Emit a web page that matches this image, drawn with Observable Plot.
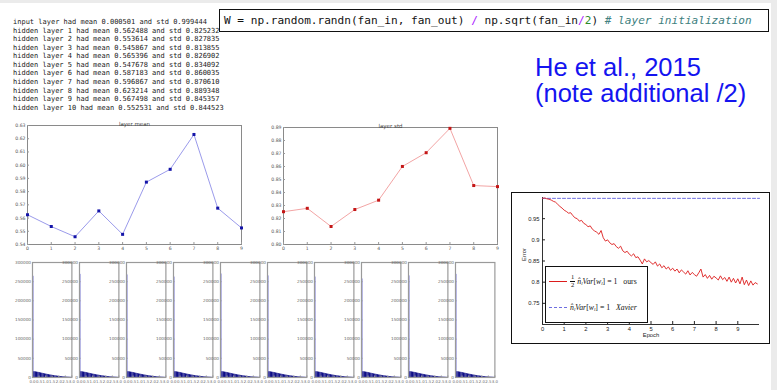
<!DOCTYPE html>
<html><head><meta charset="utf-8">
<script src="https://cdn.jsdelivr.net/npm/d3@7"></script>
<script src="https://cdn.jsdelivr.net/npm/@observablehq/plot@0.6"></script>
<style>
html,body{margin:0;padding:0;}
body{width:777px;height:390px;background:#ebebeb;position:relative;overflow:hidden;font-family:"Liberation Sans",Arial,sans-serif;}
#slide{position:absolute;left:0;top:3px;width:771px;height:387px;background:#fff;}
.abs{position:absolute;}
.abs svg{display:block;overflow:visible;}
#log{left:13px;top:18px;font-family:"DejaVu Sans Mono",monospace;font-size:7px;line-height:8.57px;white-space:pre;color:#222;}
#code{left:219px;top:9px;width:544px;height:21px;border:1px solid #111;font-family:"DejaVu Sans Mono",monospace;font-size:11.1px;line-height:21px;white-space:pre;color:#111;padding-left:4px;box-sizing:content-box;}
#code .op{color:#aa22ff;} #code .num{color:#2a8a2a;} #code .cm{color:#408080;font-style:italic;}
#ref{left:535px;top:55px;font-size:25.5px;line-height:25.7px;color:#1414f0;white-space:pre;}
#ebox{left:511px;top:192px;width:257px;height:150px;border:1.5px solid #111;}
#legend{left:545px;top:266px;width:101px;height:55px;border:1px solid #111;background:#fff;font-family:"Liberation Serif",serif;font-size:7.8px;color:#111;}
#legend .row{position:absolute;left:3px;height:14px;display:flex;align-items:center;white-space:nowrap;}
#legend .sw{display:inline-block;width:18px;height:0;margin-right:3px;}
#legend .frac{display:inline-flex;flex-direction:column;align-items:center;font-size:6.5px;line-height:6.5px;margin-right:2px;}
#legend .frac span:first-child{border-bottom:0.6px solid #111;padding:0 1px;}
#legend sub{font-size:5px;vertical-align:-1px;}
</style></head>
<body>
<div id="slide"></div>
<script>
// ---------- data ----------
const inputMean = 0.000501, inputStd = 0.999444;
const layers = [0,1,2,3,4,5,6,7,8,9];
const layerMeans = [0.562488,0.553614,0.545867,0.565396,0.547678,0.587183,0.596867,0.623214,0.567498,0.552531];
const layerStds  = [0.825232,0.827835,0.813855,0.826902,0.834092,0.860035,0.870610,0.889348,0.845357,0.844523];
const meanTicks = [0.54,0.55,0.56,0.57,0.58,0.59,0.60,0.61,0.62,0.63];
const stdTicks  = [0.80,0.81,0.82,0.83,0.84,0.85,0.86,0.87,0.88,0.89];

const histPeaks = [264000,269000,267500,262000,270000,265000,262000,257000,265000,269000];
const histTail = [15000,14600,14000,13300,12600,11800,11000,10200,9400,8700,8000,7300,6600,6000,5400,4800,4300,3800,3300,2900,2500,2100,1800,1500,1200,1000,800,600,400];
const histYTicks = [0,50000,100000,150000,200000,250000,300000];
const histXTicks = [0,0.5,1.0,1.5,2.0,2.5,3.0];

const heError = [0.998,0.999,0.997,0.996,0.994,0.991,0.989,0.984,0.979,0.975,
 0.970,0.967,0.963,0.964,0.957,0.952,0.950,0.944,0.946,0.939,
 0.936,0.931,0.933,0.925,0.921,0.918,0.913,0.922,0.905,0.897,
 0.900,0.893,0.889,0.891,0.884,0.880,0.885,0.874,0.870,0.873,
 0.866,0.862,0.867,0.858,0.860,0.852,0.843,0.855,0.848,0.851,
 0.846,0.842,0.848,0.838,0.843,0.834,0.839,0.831,0.836,0.828,
 0.833,0.826,0.831,0.822,0.829,0.824,0.819,0.827,0.817,0.823,
 0.818,0.814,0.822,0.831,0.812,0.818,0.809,0.816,0.807,0.814,
 0.810,0.805,0.815,0.806,0.811,0.802,0.812,0.800,0.809,0.798,
 0.808,0.796,0.812,0.794,0.805,0.792,0.803,0.793,0.799,0.796];
const xavierEpochs = [0,10];
const xavierError = [0.998,0.998];
const epochTicks = [0,1,2,3,4,5,6,7,8,9];
const errorTicks = [0.75,0.8,0.85,0.9,0.95];

// ---------- helpers ----------
function place(el, left, top, w){
  const d = document.createElement("div");
  d.className = "abs"; d.style.left = left+"px"; d.style.top = top+"px";
  if (w) d.style.width = w+"px";
  d.appendChild(el); document.body.appendChild(d); return d;
}
function html(id, content){
  const d = document.createElement("div"); d.id = id; d.className = "abs"; d.innerHTML = content;
  document.body.appendChild(d); return d;
}
const tickFont = "DejaVu Sans, sans-serif";

// ---------- texts ----------
const logLines = [`input layer had mean ${inputMean.toFixed(6)} and std ${inputStd.toFixed(6)}`]
  .concat(layers.map(i => `hidden layer ${i+1} had mean ${layerMeans[i].toFixed(6)} and std ${layerStds[i].toFixed(6)}`));
html("log", "").textContent = logLines.join("\n");
html("code", 'W = np.random.randn(fan_in, fan_out) <span class="op">/</span> np.sqrt(fan_in<span class="op">/</span><span class="num">2</span>) <span class="cm"># layer initialization</span>');
html("ref", "He et al., 2015\n(note additional /2)");

// ---------- layer mean / std ----------
function layerChart(values, ticks, title, lineColor, dotColor, mt){
  const data = layers.map(i => ({layer: i, v: values[i]}));
  return Plot.plot({
    width: 250, height: 140, marginLeft: 27, marginRight: 9, marginTop: mt, marginBottom: 11,
    x: {domain: [0, 9], label: null}, y: {domain: [ticks[0], ticks[ticks.length-1]], label: null},
    style: {background: "transparent", fontFamily: tickFont, overflow: "visible", color: "#555"},
    marks: [
      Plot.frame({stroke: "#8a8a8a"}),
      Plot.axisY({ticks, label: null, tickFormat: d => d.toFixed(2), tickSize: -2, tickPadding: 4, fontSize: 4.6, stroke: "#999"}),
      Plot.axisX({ticks: layers, label: null, tickFormat: d => String(d), tickSize: -2, tickPadding: 4, fontSize: 4.6, stroke: "#999"}),
      Plot.line(data, {x: "layer", y: "v", stroke: lineColor, strokeWidth: 0.9}),
      Plot.dot(data, {x: "layer", y: "v", r: 1.7, fill: dotColor, symbol: "square"}),
      Plot.text([title], {frameAnchor: "top", dy: -3.5, fontSize: 5.5, fill: "#444"})
    ]
  });
}
place(layerChart(layerMeans, meanTicks, "layer mean", "#8e8ee8", "#1414a8", 10), 0, 115, 250);
place(layerChart(layerStds, stdTicks, "layer std", "#f09a9a", "#c41616", 12), 256, 115, 250);

// ---------- histograms ----------
histPeaks.forEach((peak, k) => {
  const bins = [{x1: 0, x2: 0.1, y: peak, part: "spike"}]
    .concat(histTail.map((c, j) => ({x1: 0.1 + 0.1*j, x2: 0.2 + 0.1*j, y: c, part: "tail"})));
  const ml = 30, mr = 2, mt = 4, mb = 12, fw = 39.4, fh = 115;
  const p = Plot.plot({
    width: ml + fw + mr, height: mt + fh + mb, marginLeft: ml, marginRight: mr, marginTop: mt, marginBottom: mb,
    x: {domain: [0, 3], label: null}, y: {domain: [0, 300000], label: null},
    style: {background: "transparent", fontFamily: tickFont, overflow: "visible", color: "#666"},
    marks: [
      Plot.rectY(bins, {x1: "x1", x2: "x2", y: "y", fill: d => d.part === "spike" ? "#2626c4" : "#0e0e86"}),
      Plot.frame({stroke: "#9a9a9a", strokeWidth: 1.2}),
      Plot.axisY({ticks: histYTicks, label: null, tickFormat: d => String(d), tickSize: -1.5, tickPadding: 3, fontSize: 4.2, stroke: "#999"}),
      Plot.axisX({ticks: histXTicks, label: null, tickFormat: d => d.toFixed(1), tickSize: -1.5, tickPadding: 4.5, fontSize: 3.9, stroke: "#999"})
    ]
  });
  place(p, 32.3 + 47*k - ml, 262 - mt, ml + fw + mr);
});

// ---------- He et al. error chart ----------
html("ebox", "");
const errData = heError.map((e, i) => ({epoch: i/10, error: e}));
const xavData = xavierEpochs.map((e, i) => ({epoch: e, error: xavierError[i]}));
const errPlot = Plot.plot({
  width: 265, height: 160, marginLeft: 37, marginRight: 11, marginTop: 12, marginBottom: 21,
  x: {domain: [0, 10], label: null}, y: {domain: [0.7, 1.0], label: null},
  style: {background: "transparent", fontFamily: "Liberation Sans, sans-serif", overflow: "visible", color: "#222"},
  marks: [
    Plot.ruleX([0], {stroke: "#333"}),
    Plot.ruleY([0.7], {stroke: "#333"}),
    Plot.axisY({ticks: errorTicks, label: null, tickFormat: d => String(d), tickSize: -3, tickPadding: 6, fontSize: 5.8}),
    Plot.axisX({ticks: epochTicks, label: null, tickFormat: d => String(d), tickSize: -3, tickPadding: 5, fontSize: 5.8}),
    Plot.line(xavData, {x: "epoch", y: "error", stroke: "#6e6ee0", strokeWidth: 1, strokeDasharray: "3,2"}),
    Plot.line(errData, {x: "epoch", y: "error", stroke: "#dc1c1c", strokeWidth: 0.9}),
    Plot.text(["Error"], {frameAnchor: "left", dx: -18, rotate: -90, fontSize: 5.8}),
    Plot.text(["Epoch"], {frameAnchor: "bottom", dy: 12, fontSize: 5.8})
  ]
});
place(errPlot, 505, 185, 265);

html("legend",
  '<div class="row" style="top:7px"><span class="sw" style="border-top:1.3px solid #dc1c1c"></span>' +
  '<span class="frac"><span>1</span><span>2</span></span><i>n&#770;<sub>l</sub>Var</i>[<i>w<sub>l</sub></i>] = 1&nbsp;&nbsp;&nbsp;ours</div>' +
  '<div class="row" style="top:33px"><span class="sw" style="border-top:1.3px dashed #6e6ee0"></span>' +
  '<i>n&#770;<sub>l</sub>Var</i>[<i>w<sub>l</sub></i>] = 1&nbsp;&nbsp;&nbsp;<i>Xavier</i></div>');
</script>
</body></html>
